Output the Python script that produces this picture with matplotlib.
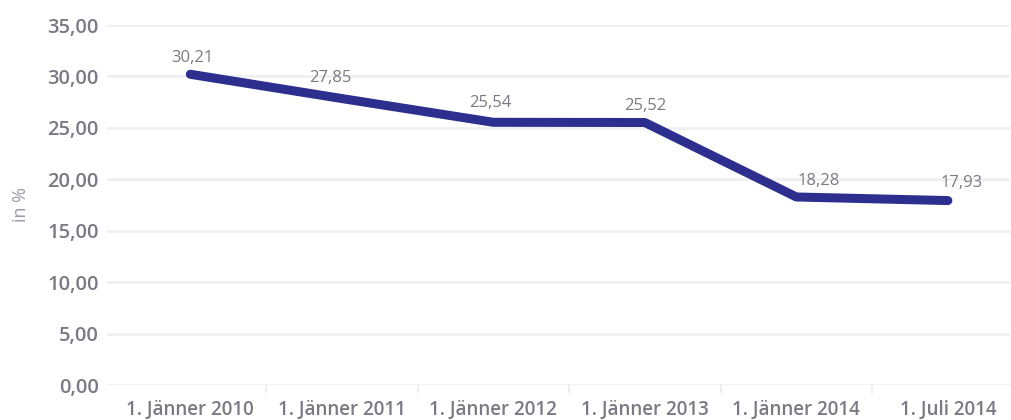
import matplotlib.pyplot as plt
from matplotlib.ticker import FuncFormatter

# Anteil in % zu den Stichtagen
stichtage = ["1. Jänner 2010", "1. Jänner 2011", "1. Jänner 2012",
             "1. Jänner 2013", "1. Jänner 2014", "1. Juli 2014"]
werte = [30.21, 27.85, 25.54, 25.52, 18.28, 17.93]
y_ticks = [0, 5, 10, 15, 20, 25, 30, 35]

# Verschiebung der Beschriftungen in Pixel (x, y)
label_offset = [(2, 16), (-12, 21), (-3, 19), (0, 17), (22, 16), (14, 18)]

linie = "#2c2f8e"
grau = "#7b7a84"

plt.rcParams['font.family'] = ['Open Sans', 'DejaVu Sans']

fig = plt.figure(figsize=(10.12, 4.20), dpi=100)
ax = fig.add_axes([107 / 1012, 1 - 385 / 420, (1010 - 107) / 1012, 360 / 420])

x = list(range(len(werte)))
ax.plot(x, werte, color=linie, linewidth=6.5, solid_capstyle='round',
        solid_joinstyle='round', zorder=3)

for xi, v, (dx, dy) in zip(x, werte, label_offset):
    ax.annotate("{:.2f}".format(v).replace(".", ","), (xi, v),
                xytext=(dx * 0.72, dy * 0.72), textcoords='offset points',
                ha='center', va='center', fontsize=12, color=grau, zorder=4)

ax.set_ylim(0, 35)
ax.set_xlim(-0.55, 5.41)
ax.set_yticks(y_ticks)
ax.yaxis.set_major_formatter(FuncFormatter(lambda v, p: "{:.2f}".format(v).replace(".", ",")))
ax.set_xticks(x)
ax.set_xticklabels(stichtage)
ax.set_xticks([i + 0.5 for i in x[:-1]], minor=True)

ax.grid(axis='y', color='#f0f0f2', linewidth=2)
ax.set_axisbelow(True)
for s in ax.spines.values():
    s.set_visible(False)

ax.tick_params(axis='y', length=0, pad=6, labelsize=14.5, labelcolor=grau)
ax.tick_params(axis='x', which='major', length=0, pad=11, labelsize=13.5, labelcolor=grau)
ax.tick_params(axis='x', which='minor', length=6, width=1.5, color='#eeeef0')
for lab in ax.get_yticklabels():
    lab.set_fontweight('semibold')
for lab in ax.get_xticklabels():
    lab.set_fontweight('semibold')

ax.set_ylabel("in %", color='#9a9aa2', fontsize=13, labelpad=12)

fig.savefig("out.png", dpi=100, facecolor='white')
